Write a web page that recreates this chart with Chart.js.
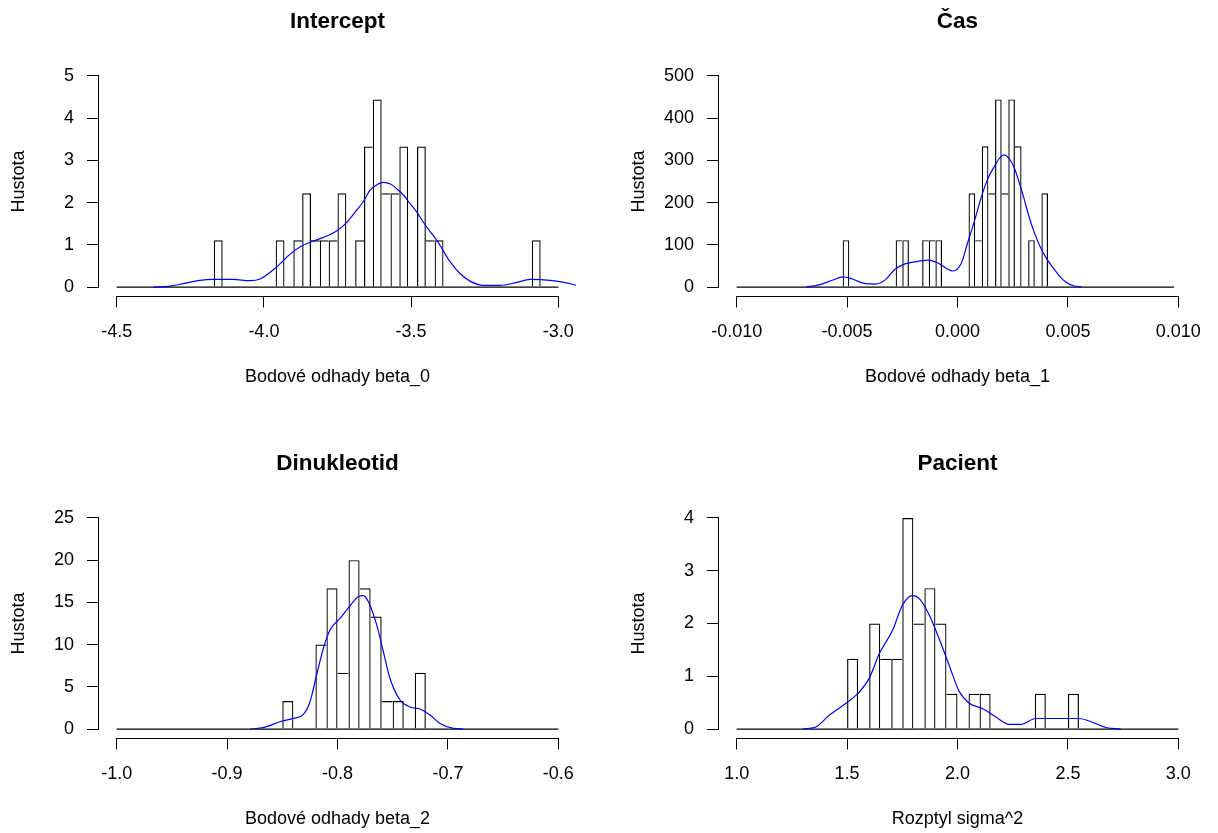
<!DOCTYPE html>
<html>
<head>
<meta charset="utf-8">
<title>Histogramy bodových odhadů</title>
<script src="https://cdn.jsdelivr.net/npm/chart.js@4.4.0/dist/chart.umd.min.js"></script>
<style>
  html, body { margin: 0; padding: 0; background: #fff; overflow: hidden; width: 1218px; height: 833px; }
  .panel { position: absolute; width: 620px; height: 442px; }
</style>
</head>
<body>
<div class="panel" style="left:0;top:0"><canvas id="c1" width="620" height="442"></canvas></div>
<div class="panel" style="left:620px;top:0"><canvas id="c2" width="620" height="442"></canvas></div>
<div class="panel" style="left:0;top:442px"><canvas id="c3" width="620" height="442"></canvas></div>
<div class="panel" style="left:620px;top:442px"><canvas id="c4" width="620" height="442"></canvas></div>
<script>
// ---- Intercept (beta_0) ----
const interceptBinWidth = 0.03;
const interceptBreaks = [-4.5, -3.0];
const interceptBinLeft = [-4.17, -3.96, -3.90, -3.87, -3.84, -3.81, -3.78, -3.75, -3.69, -3.66, -3.63, -3.60, -3.57, -3.54, -3.48, -3.45, -3.42, -3.09];
const interceptDensity = [1.11, 1.11, 1.11, 2.22, 1.11, 1.11, 1.11, 2.22, 1.11, 3.33, 4.44, 2.22, 2.22, 3.33, 3.33, 1.11, 1.11, 1.11];
const interceptKdeX = [-4.375, -4.319, -4.274, -4.217, -4.172, -4.104, -4.047, -4.013, -3.961, -3.911, -3.875, -3.843, -3.800, -3.753, -3.720, -3.685, -3.660, -3.640, -3.615, -3.594, -3.570, -3.549, -3.526, -3.504, -3.480, -3.459, -3.436, -3.413, -3.390, -3.368, -3.334, -3.300, -3.255, -3.198, -3.141, -3.096, -3.028, -2.972, -2.938, -2.900];
const interceptKdeY = [0, 0.02, 0.08, 0.16, 0.18, 0.18, 0.15, 0.19, 0.45, 0.78, 0.96, 1.06, 1.17, 1.33, 1.52, 1.82, 2.05, 2.29, 2.43, 2.48, 2.44, 2.33, 2.18, 1.98, 1.77, 1.54, 1.32, 1.11, 0.85, 0.60, 0.32, 0.14, 0.04, 0.04, 0.11, 0.18, 0.16, 0.10, 0.04, 0.01];
const interceptXTicks = [-4.5, -4.0, -3.5, -3.0];
const interceptXLabels = ["-4.5", "-4.0", "-3.5", "-3.0"];
const interceptYTicks = [0, 1, 2, 3, 4, 5];

// ---- Čas (beta_1) ----
const casBinWidth = 0.0003;
const casBreaks = [-0.01, 0.0098];
const casBinLeft = [-0.0052, -0.0028, -0.0025, -0.0016, -0.0013, -0.0010, 0.0005, 0.0008, 0.0011, 0.0014, 0.0017, 0.0020, 0.0023, 0.0026, 0.0032, 0.0038];
const casDensity = [111.1, 111.1, 111.1, 111.1, 111.1, 111.1, 222.2, 111.1, 333.3, 222.2, 444.4, 222.2, 444.4, 333.3, 111.1, 222.2];
const casKdeX = [-0.00686, -0.00626, -0.00567, -0.00519, -0.00477, -0.00417, -0.00372, -0.00327, -0.00283, -0.00238, -0.00178, -0.00133, -0.00088, -0.00043, -0.00021, 0.00016, 0.00046, 0.00076, 0.00106, 0.00136, 0.00166, 0.00190, 0.00211, 0.00233, 0.00256, 0.00278, 0.00300, 0.00322, 0.00345, 0.00375, 0.00405, 0.00435, 0.00465, 0.00495, 0.00525, 0.00562];
const casKdeY = [0, 5, 16, 24, 19, 8, 7, 17, 42, 55, 61, 64, 57, 42, 38, 55, 105, 155, 210, 255, 285, 305, 313, 305, 284, 250, 212, 170, 133, 95, 66, 44, 24, 10, 3, 0];
const casXTicks = [-0.010, -0.005, 0.000, 0.005, 0.010];
const casXLabels = ["-0.010", "-0.005", "0.000", "0.005", "0.010"];
const casYTicks = [0, 100, 200, 300, 400, 500];

// ---- Dinukleotid (beta_2) ----
const dinBinWidth = 0.01;
const dinBreaks = [-1.0, -0.6];
const dinBinLeft = [-0.85, -0.82, -0.81, -0.80, -0.79, -0.78, -0.77, -0.76, -0.75, -0.73];
const dinDensity = [3.33, 10, 16.67, 6.67, 20, 16.67, 13.33, 3.33, 3.33, 6.67];
const dinKdeX = [-0.8792, -0.8672, -0.8521, -0.8400, -0.8309, -0.8249, -0.8189, -0.8128, -0.8068, -0.7977, -0.7887, -0.7811, -0.7766, -0.7721, -0.7645, -0.7585, -0.7525, -0.7434, -0.7343, -0.7253, -0.7162, -0.7072, -0.6951, -0.6860];
const dinKdeY = [0, 0.16, 0.87, 1.26, 1.74, 3.24, 6.40, 9.57, 11.74, 13.12, 14.58, 15.69, 15.81, 15.1, 12.33, 9.17, 6.01, 3.44, 2.61, 2.37, 1.66, 0.67, 0.08, 0];
const dinXTicks = [-1.0, -0.9, -0.8, -0.7, -0.6];
const dinXLabels = ["-1.0", "-0.9", "-0.8", "-0.7", "-0.6"];
const dinYTicks = [0, 5, 10, 15, 20, 25];

// ---- Pacient (sigma^2) ----
const pacBinWidth = 0.05;
const pacBreaks = [1.0, 3.0];
const pacBinLeft = [1.50, 1.60, 1.65, 1.70, 1.75, 1.80, 1.85, 1.90, 1.95, 2.05, 2.10, 2.35, 2.50];
const pacDensity = [1.33, 2.0, 1.33, 1.33, 4.0, 2.0, 2.67, 2.0, 0.67, 0.67, 0.67, 0.67, 0.67];
const pacKdeX = [1.299, 1.359, 1.419, 1.495, 1.548, 1.600, 1.646, 1.706, 1.751, 1.796, 1.827, 1.872, 1.917, 1.962, 2.008, 2.053, 2.113, 2.173, 2.234, 2.287, 2.354, 2.430, 2.551, 2.611, 2.671, 2.739];
const pacKdeY = [0, 0.04, 0.26, 0.49, 0.67, 0.96, 1.43, 1.87, 2.35, 2.53, 2.47, 2.16, 1.71, 1.21, 0.71, 0.49, 0.39, 0.23, 0.09, 0.09, 0.20, 0.20, 0.20, 0.13, 0.03, 0];
const pacXTicks = [1.0, 1.5, 2.0, 2.5, 3.0];
const pacXLabels = ["1.0", "1.5", "2.0", "2.5", "3.0"];
const pacYTicks = [0, 1, 2, 3, 4];

const FONT = "'Liberation Sans', Arial, sans-serif";

// R-style axis lines: only from first to last tick
const rAxes = {
  id: 'rAxes',
  afterDraw(chart) {
    const { ctx, chartArea } = chart;
    const x = chart.scales.x, y = chart.scales.y;
    const xa = x.getPixelForValue(x.ticks[0].value);
    const xb = x.getPixelForValue(x.ticks[x.ticks.length - 1].value);
    const ya = y.getPixelForValue(y.ticks[0].value);
    const yb = y.getPixelForValue(y.ticks[y.ticks.length - 1].value);
    ctx.save();
    ctx.strokeStyle = '#000';
    ctx.lineWidth = 1;
    ctx.beginPath();
    const by = Math.round(chartArea.bottom) + 0.5;
    ctx.moveTo(Math.round(xa), by);
    ctx.lineTo(Math.round(xb) + 1, by);
    const lx = Math.round(chartArea.left) - 0.5;
    ctx.moveTo(lx, Math.round(ya) + 1);
    ctx.lineTo(lx, Math.round(yb));
    ctx.stroke();
    ctx.restore();
  }
};

// shared edges between neighbouring bins drawn once, like R's rect()
function edgeWidths(ctx) {
  if (ctx.dataIndex === undefined) return 1.2;
  const d = ctx.dataset.data, i = ctx.dataIndex, w = ctx.dataset.binWidth;
  const cur = d[i], prev = d[i - 1], next = d[i + 1];
  const prevAdj = prev && Math.abs(cur.x - prev.x - w) < w * 0.01;
  const nextAdj = next && Math.abs(next.x - cur.x - w) < w * 0.01;
  return {
    top: 1.2,
    bottom: 0,
    left: (prevAdj && prev.y > cur.y) ? 0 : 1.2,
    right: (nextAdj && next.y >= cur.y) ? 0 : 1.2
  };
}

function buildHist(id, title, xTitle, binWidth, binLeft, density, breaks, kdeX, kdeY, xTicks, xLabels, yTicks) {
  const span = xTicks[xTicks.length - 1] - xTicks[0];
  const yTop = yTicks[yTicks.length - 1];
  const bars = binLeft.map((l, i) => ({ x: l + binWidth / 2, y: density[i] }));
  const kde = kdeX.map((v, i) => ({ x: v, y: kdeY[i] }));

  return new Chart(document.getElementById(id), {
    type: 'bar',
    data: {
      datasets: [
        {
          type: 'line',
          data: kde,
          borderColor: '#0000ff',
          borderWidth: 1.2,
          pointRadius: 0,
          cubicInterpolationMode: 'monotone',
          order: 0
        },
        {
          type: 'bar',
          data: bars,
          binWidth: binWidth,
          backgroundColor: 'rgba(0,0,0,0)',
          borderColor: '#000',
          borderWidth: edgeWidths,
          borderSkipped: false,
          inflateAmount: 0,
          barPercentage: 1,
          categoryPercentage: 1,
          order: 1
        },
        {
          type: 'line',
          data: [{ x: breaks[0], y: 0 }, { x: breaks[1], y: 0 }],
          borderColor: '#000',
          borderWidth: 1.2,
          pointRadius: 0,
          order: 2
        }
      ]
    },
    options: {
      responsive: false,
      maintainAspectRatio: false,
      animation: false,
      events: [],
      layout: { padding: { left: 0, top: 0, right: 44, bottom: 0 } },
      plugins: {
        legend: { display: false },
        tooltip: { enabled: false },
        title: {
          display: true,
          text: title,
          fullSize: false,
          color: '#000',
          font: { family: FONT, size: 22.5, weight: 'bold' },
          padding: { top: 7.9, bottom: 32.6 }
        }
      },
      scales: {
        x: {
          type: 'linear',
          offset: false,
          min: xTicks[0] - 0.04 * span,
          max: xTicks[xTicks.length - 1] + 0.04 * span,
          afterBuildTicks: (axis) => { axis.ticks = xTicks.map(v => ({ value: v })); },
          afterFit: (axis) => { axis.height = 146.5; },
          border: { display: false },
          grid: { offset: false, drawOnChartArea: false, drawTicks: true, tickLength: 12, color: '#000', tickColor: '#000' },
          ticks: {
            autoSkip: false, maxRotation: 0, minRotation: 0, padding: 14,
            color: '#000', font: { family: FONT, size: 18 },
            callback: (v, i) => xLabels[i]
          },
          title: {
            display: true, text: xTitle, color: '#000',
            font: { family: FONT, size: 18 },
            padding: { top: 0, bottom: 53.7 }
          }
        },
        y: {
          type: 'linear',
          min: -0.04 * yTop,
          max: 1.04 * yTop,
          afterBuildTicks: (axis) => { axis.ticks = yTicks.map(v => ({ value: v })); },
          afterFit: (axis) => { axis.width = 99; },
          border: { display: false },
          grid: { drawOnChartArea: false, drawTicks: true, tickLength: 12, color: '#000', tickColor: '#000' },
          ticks: {
            autoSkip: false, padding: 13,
            color: '#000', font: { family: FONT, size: 18 },
            callback: (v) => String(v)
          },
          title: {
            display: true, text: 'Hustota', color: '#000',
            font: { family: FONT, size: 18 },
            padding: { top: 8.2, bottom: 0 }
          }
        }
      }
    },
    plugins: [rAxes]
  });
}

buildHist('c1', 'Intercept', 'Bodové odhady beta_0', interceptBinWidth, interceptBinLeft, interceptDensity, interceptBreaks, interceptKdeX, interceptKdeY, interceptXTicks, interceptXLabels, interceptYTicks);
buildHist('c2', 'Čas', 'Bodové odhady beta_1', casBinWidth, casBinLeft, casDensity, casBreaks, casKdeX, casKdeY, casXTicks, casXLabels, casYTicks);
buildHist('c3', 'Dinukleotid', 'Bodové odhady beta_2', dinBinWidth, dinBinLeft, dinDensity, dinBreaks, dinKdeX, dinKdeY, dinXTicks, dinXLabels, dinYTicks);
buildHist('c4', 'Pacient', 'Rozptyl sigma^2', pacBinWidth, pacBinLeft, pacDensity, pacBreaks, pacKdeX, pacKdeY, pacXTicks, pacXLabels, pacYTicks);
</script>
</body>
</html>
